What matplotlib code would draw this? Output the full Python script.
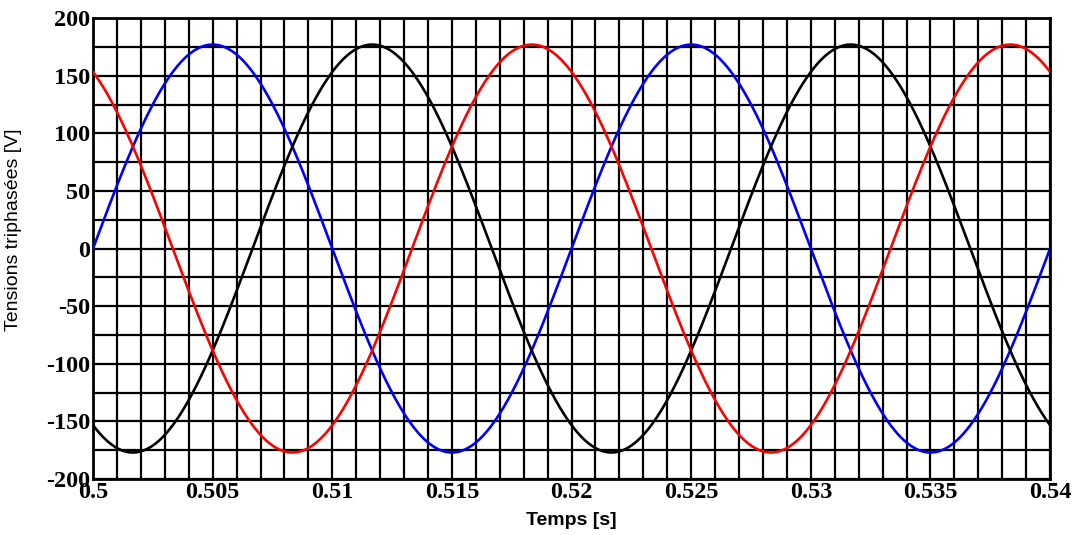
import numpy as np
import matplotlib.pyplot as plt
from matplotlib.ticker import MultipleLocator

# Tensions triphasées : amplitude crête, fréquence réseau et déphasages
amplitude = 177.0          # V crête
frequence = 50.0           # Hz
phases_deg = [0.0, -120.0, 120.0]
couleurs = ["blue", "black", "red"]

t_debut, t_fin = 0.5, 0.54
x_ticks = [0.5, 0.505, 0.51, 0.515, 0.52, 0.525, 0.53, 0.535, 0.54]
x_tick_labels = ["0.5", "0.505", "0.51", "0.515", "0.52", "0.525", "0.53", "0.535", "0.54"]
y_ticks = [200, 150, 100, 50, 0, -50, -100, -150, -200]

t = np.linspace(t_debut, t_fin, 2000)

fig = plt.figure(figsize=(10.78, 5.35), dpi=100)
ax = fig.add_axes([0.0863, 0.1047, 0.8878, 0.8615])

for phi, c in zip(phases_deg, couleurs):
    v = amplitude * np.sin(2 * np.pi * frequence * t + np.deg2rad(phi))
    ax.plot(t, v, color=c, lw=1.9, zorder=3)

ax.set_xlim(t_debut, t_fin)
ax.set_ylim(-200, 200)

# grille fine : 1 ms en x, 25 V en y
ax.xaxis.set_minor_locator(MultipleLocator(0.001))
ax.yaxis.set_minor_locator(MultipleLocator(25))
ax.grid(which="both", color="black", lw=1.6, zorder=1)
ax.set_axisbelow(True)

ax.set_xticks(x_ticks)
ax.set_xticklabels(x_tick_labels)
ax.set_yticks(y_ticks)
ax.set_yticklabels([str(v) for v in y_ticks])
ax.tick_params(which="both", length=0)
ax.tick_params(axis="x", pad=2)
ax.tick_params(axis="y", pad=2)
for lab in ax.get_xticklabels() + ax.get_yticklabels():
    lab.set_fontfamily("Liberation Serif")
    lab.set_fontweight("bold")
    lab.set_fontsize(17.5)

for sp in ax.spines.values():
    sp.set_linewidth(2.0)
    sp.set_color("black")

ax.set_xlabel("Temps [s]", fontfamily="Liberation Sans", fontsize=14, fontweight="bold")
ax.set_ylabel("Tensions triphasées [V]", fontfamily="Liberation Sans", fontsize=14)
ax.xaxis.set_label_coords(0.5, -0.072)
ax.yaxis.set_label_coords(-0.074, 0.54)

fig.savefig("out.png", dpi=100)
